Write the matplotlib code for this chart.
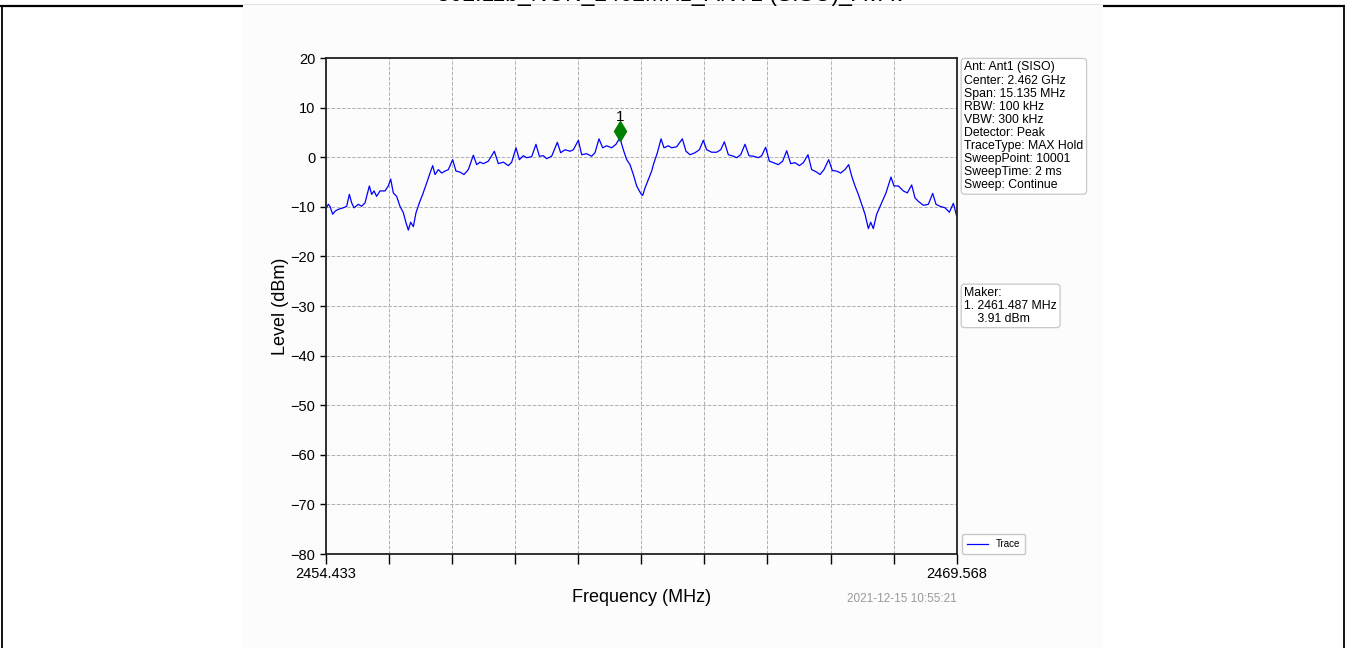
import matplotlib
matplotlib.use("Agg")
import matplotlib.pyplot as plt
from matplotlib.lines import Line2D
from matplotlib.patches import Rectangle
from matplotlib.transforms import offset_copy

plt.rcParams["font.family"] = ["Liberation Sans", "DejaVu Sans"]

# ---------------------------------------------------------------------------
# Spectrum trace (MAX hold), frequency in MHz / level in dBm
# ---------------------------------------------------------------------------
FREQ_MHZ = [
    2454.433, 2454.496, 2454.536, 2454.600, 2454.656, 2454.736, 2454.856, 2454.936,
    2455.000, 2455.056, 2455.112, 2455.216, 2455.296, 2455.376, 2455.480, 2455.536,
    2455.592, 2455.655, 2455.735, 2455.855, 2455.935, 2455.991, 2456.055, 2456.135,
    2456.215, 2456.295, 2456.359, 2456.415, 2456.471, 2456.535, 2456.599, 2456.679,
    2456.759, 2456.855, 2456.935, 2456.999, 2457.055, 2457.135, 2457.215, 2457.295,
    2457.374, 2457.478, 2457.558, 2457.654, 2457.750, 2457.854, 2457.974, 2458.054,
    2458.134, 2458.214, 2458.334, 2458.478, 2458.574, 2458.694, 2458.814, 2458.894,
    2458.998, 2459.078, 2459.173, 2459.253, 2459.373, 2459.477, 2459.557, 2459.653,
    2459.733, 2459.853, 2459.989, 2460.069, 2460.173, 2460.293, 2460.373, 2460.493,
    2460.573, 2460.692, 2460.812, 2460.892, 2460.988, 2461.076, 2461.172, 2461.292,
    2461.396, 2461.487, 2461.572, 2461.652, 2461.732, 2461.812, 2461.892, 2461.988,
    2462.036, 2462.092, 2462.172, 2462.252, 2462.292, 2462.388, 2462.476, 2462.547,
    2462.651, 2462.731, 2462.851, 2462.987, 2463.075, 2463.171, 2463.291, 2463.395,
    2463.491, 2463.571, 2463.691, 2463.811, 2463.907, 2463.995, 2464.091, 2464.211,
    2464.291, 2464.387, 2464.490, 2464.586, 2464.690, 2464.810, 2464.890, 2464.986,
    2465.074, 2465.170, 2465.290, 2465.394, 2465.490, 2465.586, 2465.690, 2465.794,
    2465.890, 2466.001, 2466.089, 2466.209, 2466.289, 2466.385, 2466.497, 2466.585,
    2466.689, 2466.785, 2466.889, 2466.977, 2467.049, 2467.129, 2467.209, 2467.289,
    2467.369, 2467.449, 2467.505, 2467.568, 2467.648, 2467.768, 2467.872, 2467.936,
    2467.992, 2468.064, 2468.168, 2468.288, 2468.384, 2468.488, 2468.568, 2468.648,
    2468.768, 2468.888, 2468.992, 2469.072, 2469.168, 2469.288, 2469.392, 2469.488,
    2469.568,
]
LEVEL_DBM = [
    -10.5, -9.5, -9.9, -11.5, -10.9, -10.5, -10.2, -9.9,
    -7.5, -9.2, -10.2, -9.5, -9.9, -9.2, -5.8, -7.5,
    -6.8, -7.9, -6.8, -6.8, -5.8, -4.4, -7.2, -7.9,
    -9.9, -11.2, -13.2, -14.7, -13.1, -14.0, -11.2, -9.2,
    -7.5, -5.2, -3.2, -1.7, -3.5, -2.5, -3.2, -2.8,
    -2.5, -0.5, -2.8, -3.0, -3.5, -2.5, 0.4, -1.5,
    -1.0, -1.3, -0.8, 1.2, -1.3, -1.0, -1.7, -1.0,
    1.9, -0.5, 0.3, -0.1, 0.1, 2.6, 0.2, 0.3,
    -0.3, 0.2, 3.0, 0.9, 1.5, 1.2, 1.5, 3.4,
    0.5, 0.7, 0.2, 0.9, 3.7, 1.9, 2.3, 1.9,
    2.6, 3.91, 1.5, -0.5, -1.5, -3.5, -5.8, -7.3,
    -7.7, -6.2, -4.5, -2.8, -1.5, 0.9, 3.7, 1.9,
    2.3, 1.9, 2.1, 3.7, 1.2, 0.5, 0.9, 1.5,
    3.4, 1.5, 1.0, 1.0, 1.5, 3.1, 0.5, 0.2,
    -0.1, 0.5, 2.6, 0.3, 0.2, -0.1, 0.3, 2.0,
    -0.8, -1.1, -1.5, -0.8, 1.3, -1.3, -1.1, -1.7,
    -1.1, 0.5, -2.5, -3.0, -3.5, -2.5, -0.5, -2.7,
    -2.8, -3.2, -2.5, -1.5, -3.8, -5.8, -7.5, -9.5,
    -11.5, -14.4, -13.1, -14.4, -11.5, -9.2, -7.2, -5.5,
    -4.0, -5.8, -5.8, -6.8, -7.2, -5.6, -8.2, -8.9,
    -9.7, -9.5, -7.3, -9.5, -9.9, -10.2, -11.1, -9.3,
    -11.9,
]

START_MHZ = 2454.433
STOP_MHZ = 2469.568
Y_TICKS = [20, 10, 0, -10, -20, -30, -40, -50, -60, -70, -80]

MARKER_FREQ = 2461.487
MARKER_LEVEL = 3.91

TITLE = "802.11b_NON_2462MHz_ANT1 (SISO)_AVAV"
TIMESTAMP = "2021-12-15 10:55:21"
SETTINGS = [
    "Ant: Ant1 (SISO)",
    "Center: 2.462 GHz",
    "Span: 15.135 MHz",
    "RBW: 100 kHz",
    "VBW: 300 kHz",
    "Detector: Peak",
    "TraceType: MAX Hold",
    "SweepPoint: 10001",
    "SweepTime: 2 ms",
    "Sweep: Continue",
]

W, H = 1345, 648
fig = plt.figure(figsize=(W / 100, H / 100), dpi=100)
fig.patch.set_facecolor("white")

# report cell frame + embedded image background
fig.add_artist(Line2D([0, 1], [1 - 6 / H, 1 - 6 / H], color="black", lw=1.6, zorder=0))
fig.add_artist(Line2D([1.5 / W, 1.5 / W], [0, 1 - 6 / H], color="black", lw=1.3, zorder=0))
fig.add_artist(Line2D([1 - 1.5 / W, 1 - 1.5 / W], [0, 1 - 6 / H], color="black", lw=1.3, zorder=0))
fig.add_artist(Rectangle((243 / W, 0), (1103 - 243) / W, 1 - 5 / H,
                         transform=fig.transFigure, facecolor="#fcfcfc",
                         edgecolor="none", zorder=1))
# table header row sits above the visible area, only its lower edge shows
fig.text(672 / W, 1 - 1.5 / H, TITLE, ha="center", va="baseline", fontsize=16.5,
         color="black", zorder=2)

ax = fig.add_axes([325.7 / W, 1 - 554 / H, 631 / W, 496 / H])
ax.set_zorder(3)
ax.set_facecolor("#fcfcfc")

ax.plot(FREQ_MHZ, LEVEL_DBM, color="blue", lw=0.9, label="Trace")

# peak marker, drawn a little above the trace point
mk_trans = offset_copy(ax.transData, fig=fig, x=0, y=7, units="dots")
ax.plot([MARKER_FREQ], [MARKER_LEVEL], marker="d", markersize=10,
        color="green", transform=mk_trans, linestyle="none")
ax.annotate("1", (MARKER_FREQ, MARKER_LEVEL), xytext=(0, 10),
            textcoords="offset points", ha="center", va="bottom", fontsize=11)

ax.set_xlim(START_MHZ, STOP_MHZ)
ax.set_ylim(-80, 20)
step = (STOP_MHZ - START_MHZ) / 10
xt = [START_MHZ + i * step for i in range(11)]
ax.set_xticks(xt)
ax.set_xticklabels([f"{START_MHZ:.3f}"] + [""] * 9 + [f"{STOP_MHZ:.3f}"])
ax.set_yticks(Y_TICKS)
ax.set_yticklabels([f"{v}".replace("-", "\u2212") for v in Y_TICKS])
ax.tick_params(axis="x", direction="out", length=7, width=1, labelsize=10.5, pad=2)
ax.tick_params(axis="y", direction="out", length=4, width=1, labelsize=10.5)
ax.grid(True, color="#b0b0b0", linestyle="--", linewidth=0.7)
for s in ax.spines.values():
    s.set_linewidth(1.3)
    s.set_color("#222222")

ax.set_xlabel("Frequency (MHz)", fontsize=13, labelpad=6)
ax.set_ylabel("Level (dBm)", fontsize=13, labelpad=1)
ax.text(1.0, -0.09, TIMESTAMP, transform=ax.transAxes, ha="right", va="center",
        fontsize=8.5, color="#999999")

box = dict(boxstyle="round,pad=0.25,rounding_size=0.3", facecolor="white",
           edgecolor="#c8c8c8", linewidth=0.9)
ax.text(1.012, 0.993, "\n".join(SETTINGS), transform=ax.transAxes, ha="left",
        va="top", fontsize=8.8, linespacing=1.12, bbox=box)
ax.text(1.012, 0.538, f"Maker:\n1. {MARKER_FREQ:.3f} MHz\n    {MARKER_LEVEL:.2f} dBm",
        transform=ax.transAxes, ha="left", va="top", fontsize=8.8,
        linespacing=1.08, bbox=box)

leg = ax.legend(loc="lower left", bbox_to_anchor=(1.001, -0.01), fontsize=7,
                handlelength=2.2, borderpad=0.5, framealpha=1, fancybox=True)
leg.get_frame().set_edgecolor("#c8c8c8")

fig.savefig("out.png", dpi=100, facecolor=fig.get_facecolor())
